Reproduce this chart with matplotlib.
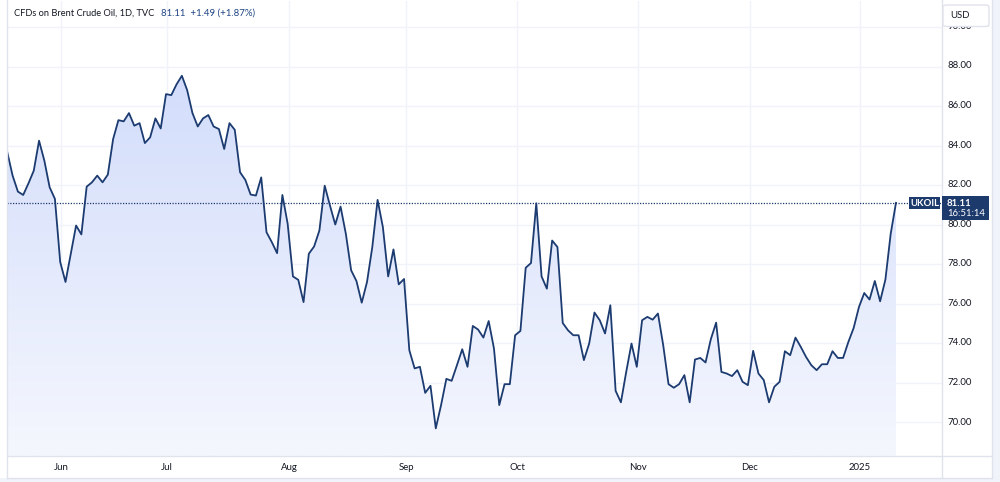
import numpy as np
import matplotlib
matplotlib.use("Agg")
import matplotlib.pyplot as plt
from matplotlib.colors import LinearSegmentedColormap
from matplotlib.patches import Rectangle, FancyBboxPatch, PathPatch

plt.rcParams['font.family'] = ['Lato', 'DejaVu Sans']

# ---- data (daily closes, UKOIL) ----
prices = [
    83.67, 82.49, 81.68, 81.51, 82.10, 82.74, 84.26, 83.25, 81.90, 81.31,
    78.11, 77.10, 78.53, 79.96, 79.51, 81.93, 82.15, 82.49, 82.15, 82.54,
    84.34, 85.30, 85.24, 85.66, 85.02, 85.15, 84.14, 84.43, 85.39, 84.88,
    86.62, 86.57, 87.12, 87.55, 86.82, 85.66, 84.98, 85.39, 85.56, 84.98,
    84.85, 83.84, 85.15, 84.81, 82.66, 82.27, 81.53, 81.48, 82.40, 79.62,
    79.12, 78.56, 81.51, 80.05, 77.38, 77.21, 76.08, 78.53, 78.90, 79.71,
    81.98, 80.97, 80.01, 80.92, 79.54, 77.69, 77.15, 76.05, 77.10, 78.87,
    81.26, 79.88, 77.38, 78.75, 76.98, 77.25, 73.64, 72.72, 72.80, 71.48,
    71.84, 69.68, 70.86, 72.19, 72.09, 72.88, 73.69, 72.80, 74.87, 74.69,
    74.28, 75.12, 73.73, 70.86, 71.92, 71.92, 74.40, 74.62, 77.82, 78.06,
    81.09, 77.38, 76.76, 79.20, 78.87, 75.02, 74.65, 74.40, 74.40, 73.14,
    73.98, 75.55, 75.16, 74.49, 75.92, 71.58, 71.00, 72.54, 73.98, 72.80,
    75.16, 75.33, 75.19, 75.50, 73.89, 71.92, 71.74, 71.92, 72.38, 71.00,
    73.17, 73.25, 73.02, 74.20, 75.04, 72.54, 72.46, 72.33, 72.63, 72.04,
    71.87, 73.61, 72.46, 72.13, 71.00, 71.79, 72.04, 73.59, 73.39, 74.28,
    73.81, 73.30, 72.88, 72.63, 72.93, 72.93, 73.59, 73.25, 73.25, 74.06,
    74.77, 75.83, 76.54, 76.21, 77.15, 76.12, 77.22, 79.54, 81.11,
]
month_labels = ["Jun", "Jul", "Aug", "Sep", "Oct", "Nov", "Dec", "2025"]
month_pos = [10.15, 30.2, 53.3, 75.4, 96.4, 119.2, 140.4, 161.2]  # bar index
price_ticks = [70, 72, 74, 76, 78, 80, 82, 84, 86, 88, 90]
last_price = 81.11
title = "CFDs on Brent Crude Oil, 1D, TVC"
quote = "81.11  +1.49 (+1.87%)"
symbol = "UKOIL"
countdown = "16:51:14"
currency = "USD"

LINE = "#1c3b70"
NAVY = "#1d3a6c"
GRID = "#f0f3fa"
BORDER = "#e0e3eb"
TXT = "#131722"
FS = 6.9

W, H = 1000, 482
fig = plt.figure(figsize=(W / 100, H / 100), dpi=100)
fig.patch.set_facecolor("#f0f3fa")

def fx(px):
    return px / W

def fy(py):
    return 1 - py / H

# white panel (behind everything)
fig.patches.append(Rectangle((0, fy(478)), fx(993), 1 - fy(478), transform=fig.transFigure,
                             facecolor="white", edgecolor="none", zorder=-5))

ax = fig.add_axes([fx(7), fy(456), fx(942) - fx(7), fy(1) - fy(456)])
ax.set_zorder(1)
ax.set_facecolor("white")

ymin, ymax = 68.28, 91.34
ax.set_ylim(ymin, ymax)
ax.set_xlim(-0.06, 176.7)

x = np.arange(len(prices))
vals = np.array(prices)

# grids
for t in price_ticks:
    ax.axhline(t, color=GRID, lw=1, zorder=0.5)
for p in month_pos:
    ax.axvline(p, color=GRID, lw=1, zorder=0.5)

# gradient area
poly = ax.fill_between(x, vals, ymin, color="none", lw=0)
path = poly.get_paths()[0]
cmap = LinearSegmentedColormap.from_list("g", ["#f5f7fe", "#d3ddfb"])
grad = np.linspace(0, 1, 256).reshape(-1, 1)
im = ax.imshow(grad, extent=[x[0], x[-1], ymin, vals.max()], origin="lower",
               aspect="auto", cmap=cmap, zorder=1, interpolation="bilinear")
clip = PathPatch(path, transform=ax.transData, facecolor="none", edgecolor="none")
ax.add_patch(clip)
im.set_clip_path(clip)

ax.plot(x, vals, color=LINE, lw=1.3, zorder=3, solid_joinstyle="round")
ax.axhline(last_price, color=NAVY, lw=0.9, ls=(0, (1, 1.2)), zorder=2)

ax.set_xticks([])
ax.set_yticks([])
for s in ax.spines.values():
    s.set_visible(False)

# borders
def hline(py, x0, x1, c=BORDER):
    fig.add_artist(plt.Line2D([fx(x0), fx(x1)], [fy(py), fy(py)], transform=fig.transFigure,
                              color=c, lw=1, zorder=4))

def vline(px, y0, y1, c=BORDER):
    fig.add_artist(plt.Line2D([fx(px), fx(px)], [fy(y0), fy(y1)], transform=fig.transFigure,
                              color=c, lw=1, zorder=4))

hline(456, 7, 992)
vline(942, 0, 478)
vline(7, 0, 478)
vline(992, 0, 478)
hline(478, 7, 992)

# price axis labels
for t in price_ticks:
    py = 66 + (88 - t) * 19.78
    fig.text(fx(947), fy(py), f"{t:.2f}", fontsize=FS, color=TXT, va="center", ha="left")

# month labels
for lab, p in zip(month_labels, month_pos):
    px = 7.3 + 5.29 * p
    fig.text(fx(px), fy(467), lab, fontsize=FS, color=TXT, va="center", ha="center")

# USD button (mostly covers top label)
fig.patches.append(FancyBboxPatch((fx(943), fy(26.5)), fx(46), fy(5) - fy(26.5),
                                  boxstyle="round,pad=0,rounding_size=0.004",
                                  transform=fig.transFigure, facecolor="white",
                                  edgecolor=BORDER, lw=1, zorder=5))
fig.text(fx(950), fy(15.5), currency, fontsize=FS, color=TXT, va="center", ha="left", zorder=6)

# last price labels
fig.patches.append(Rectangle((fx(909), fy(209)), fx(31), fy(197) - fy(209), transform=fig.transFigure,
                             facecolor=NAVY, edgecolor="none", zorder=5))
fig.text(fx(924.5), fy(203), symbol, fontsize=FS, color="white", fontweight="bold",
         va="center", ha="center", zorder=6)
fig.patches.append(Rectangle((fx(942), fy(220)), fx(47), fy(196.5) - fy(220), transform=fig.transFigure,
                             facecolor=NAVY, edgecolor="none", zorder=5))
fig.text(fx(947), fy(203), f"{last_price:.2f}", fontsize=FS, color="white", fontweight="bold",
         va="center", ha="left", zorder=6)
fig.text(fx(947), fy(214), countdown, fontsize=FS, color="white",
         va="center", ha="left", zorder=6)

# title
fig.text(fx(14), fy(13), title, fontsize=6.7, color=TXT, va="center", ha="left")
fig.text(fx(161), fy(13), quote, fontsize=FS, color="#1e4584", va="center", ha="left")

fig.savefig("out.png", dpi=100)
